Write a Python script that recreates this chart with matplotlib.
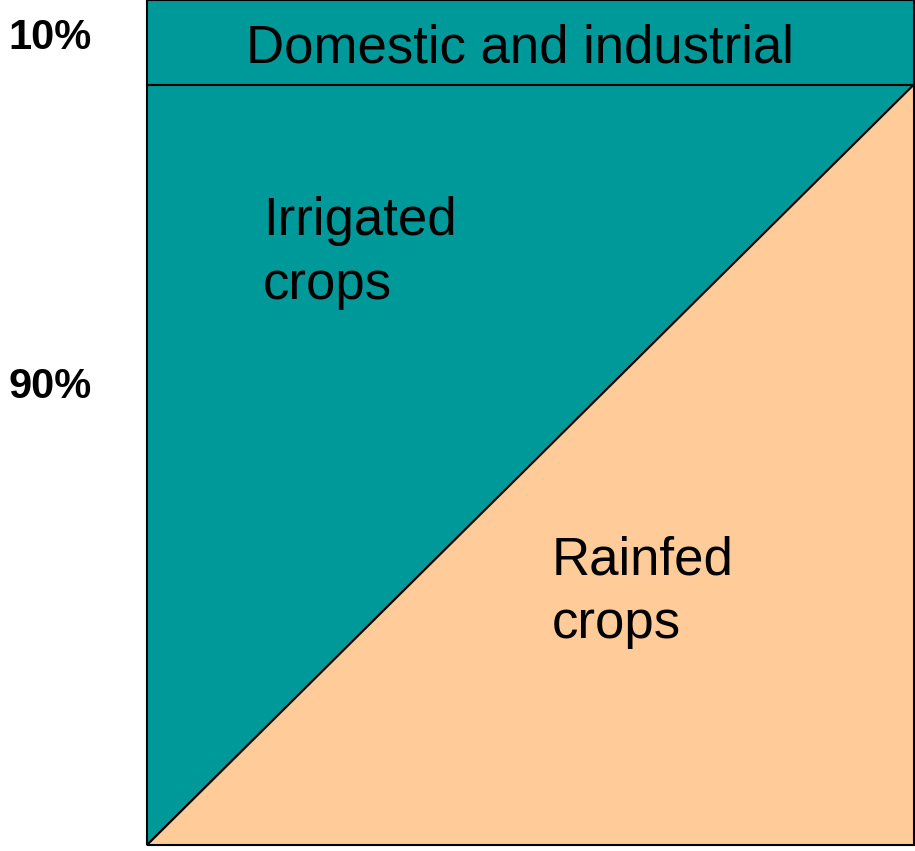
import matplotlib
matplotlib.use("Agg")
import matplotlib.pyplot as plt
from matplotlib.patches import Polygon, Rectangle

plt.rcParams['font.family'] = ['Liberation Sans', 'DejaVu Sans']

# share of water use, percent
domestic_share = 10
agri_share = 90
labels = ['Domestic and industrial', 'Irrigated\ncrops', 'Rainfed\ncrops']
share_labels = ['10%', '90%']
teal = '#009999'
peach = '#FFCC99'

fig = plt.figure(figsize=(9.15, 8.51), dpi=100)
ax = fig.add_axes([147/915, 6/851, 767/915, 845/851])
ax.set_xlim(0, 100)
ax.set_ylim(0, 100)
ax.axis('off')

# domestic band on top
ax.add_patch(Rectangle((0, agri_share), 100, domestic_share, facecolor=teal,
                       edgecolor='black', lw=1.5, clip_on=False))
# irrigated triangle
ax.add_patch(Polygon([(0, 0), (0, agri_share), (100, agri_share)], closed=True,
                     facecolor=teal, edgecolor='black', lw=1.5, clip_on=False))
# rainfed triangle
ax.add_patch(Polygon([(0, 0), (100, agri_share), (100, 0)], closed=True,
                     facecolor=peach, edgecolor='black', lw=1.5, clip_on=False))

ax.text(48.6, 94.3, labels[0], fontsize=38, ha='center', va='center')
ax.text(15.1, 76.8, labels[1], fontsize=38, ha='left', va='top', linespacing=1.35)
ax.text(52.8, 36.6, labels[2], fontsize=38, ha='left', va='top', linespacing=1.35)

fig.text(8/915, 1 - 38/851, share_labels[0], fontsize=30, fontweight='bold',
         ha='left', va='center')
fig.text(8/915, 1 - 387/851, share_labels[1], fontsize=30, fontweight='bold',
         ha='left', va='center')

fig.savefig('out.png', dpi=100)
